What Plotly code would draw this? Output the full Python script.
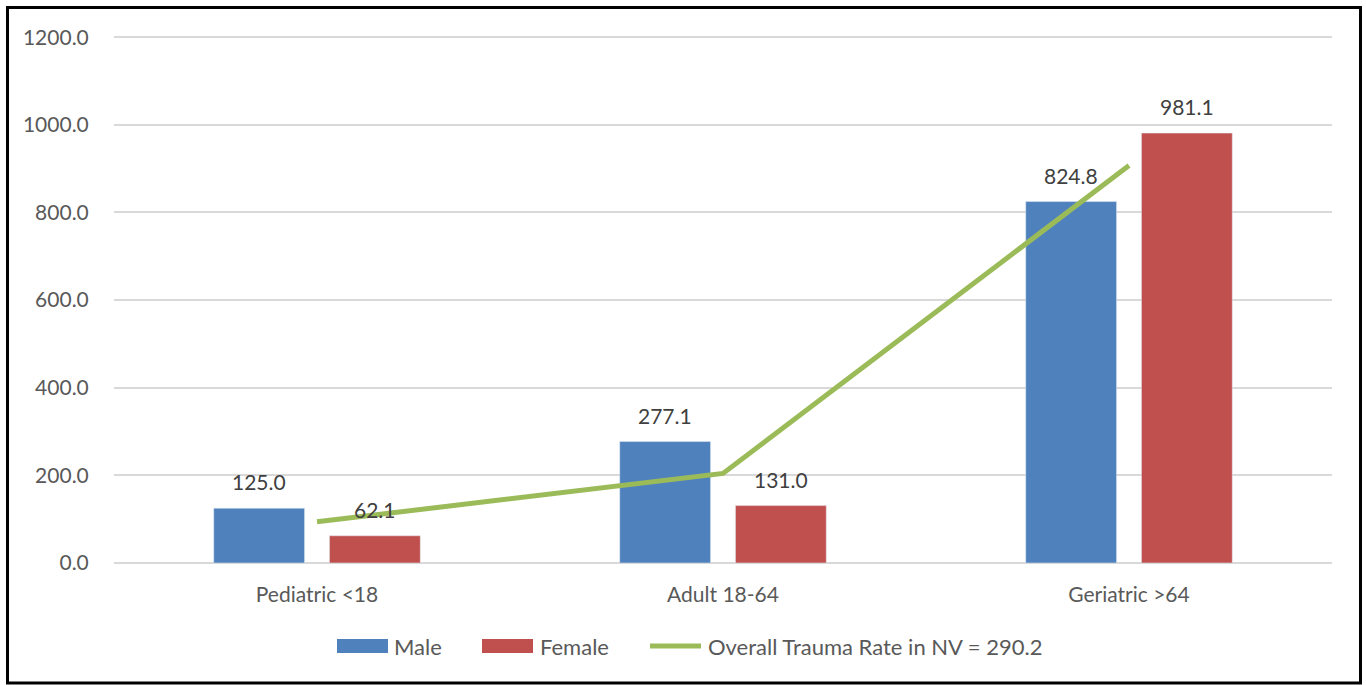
import plotly.graph_objects as go

# Trauma rates per 100,000 by age group and sex
age_groups = ["Pediatric <18", "Adult 18-64", "Geriatric >64"]
male_rates = [125.0, 277.1, 824.8]
female_rates = [62.1, 131.0, 981.1]
overall_rates = [94.0, 204.5, 907.0]
overall_label = "Overall Trauma Rate in NV = 290.2"
y_ticks = [0, 200, 400, 600, 800, 1000, 1200]

BLUE = "#4F81BD"
RED = "#C0504D"
GREEN = "#9BBB59"
FONT = "Lato"

W, H = 1366, 685
L, R, T, B = 114, 34, 35, 122
PW, PH = W - L - R, H - T - B
BAR_OFFSET = 58  # px from category centre to each bar centre


def px_x(x):
    return (x - L) / PW


def px_y(y):
    return (H - B - y) / PH


fig = go.Figure()
fig.add_trace(go.Bar(x=age_groups, y=male_rates, name="Male", marker_color=BLUE))
fig.add_trace(go.Bar(x=age_groups, y=female_rates, name="Female", marker_color=RED))
fig.add_trace(go.Scatter(
    x=age_groups, y=overall_rates, name=overall_label, mode="lines",
    line=dict(color=GREEN, width=5), cliponaxis=False,
))

# value labels above each bar
label_font = dict(size=21, color="#404040", family=FONT)
annotations = []
for series, shift in ((male_rates, -BAR_OFFSET), (female_rates, BAR_OFFSET)):
    for cat, v in zip(age_groups, series):
        annotations.append(dict(
            x=cat, y=v, xref="x", yref="y", text=f"{v:.1f}",
            xshift=shift, yshift=12, yanchor="bottom", showarrow=False,
            font=label_font,
        ))

shapes = [
    # chart frame
    dict(type="rect", xref="paper", yref="paper",
         x0=px_x(7.5), x1=px_x(1360.5), y0=px_y(683), y1=px_y(7.5),
         line=dict(color="black", width=3), layer="above"),
    # legend swatches
    dict(type="rect", xref="paper", yref="paper",
         x0=px_x(337), x1=px_x(388), y0=px_y(653), y1=px_y(639),
         fillcolor=BLUE, line=dict(width=0)),
    dict(type="rect", xref="paper", yref="paper",
         x0=px_x(482), x1=px_x(533), y0=px_y(653), y1=px_y(639),
         fillcolor=RED, line=dict(width=0)),
    dict(type="line", xref="paper", yref="paper",
         x0=px_x(650), x1=px_x(701), y0=px_y(646), y1=px_y(646),
         line=dict(color=GREEN, width=5)),
]

legend_font = dict(size=22, color="#595959", family=FONT)
for text, x in (("Male", 392), ("Female", 538), (overall_label, 706)):
    annotations.append(dict(
        text=text, x=px_x(x), y=px_y(646), xref="paper", yref="paper",
        xanchor="left", yanchor="middle", showarrow=False, font=legend_font,
    ))

fig.update_layout(
    width=W, height=H,
    margin=dict(l=L, r=R, t=T, b=B),
    paper_bgcolor="white", plot_bgcolor="white",
    barmode="group", bargap=0.43, bargroupgap=0.215,
    showlegend=False,
    shapes=shapes, annotations=annotations,
    font=dict(family=FONT, color="#595959"),
)
fig.update_xaxes(
    showgrid=False, showline=False,
    ticks="outside", ticklen=13, tickcolor="rgba(0,0,0,0)",
    tickfont=dict(size=21, color="#595959", family=FONT),
)
fig.update_yaxes(
    range=[0, 1205], tickvals=y_ticks,
    ticktext=[f"{v:.1f}" for v in y_ticks],
    showgrid=True, gridcolor="#D9D9D9", gridwidth=1.5,
    zeroline=True, zerolinecolor="#D9D9D9", zerolinewidth=1.5,
    ticks="outside", ticklen=20, tickcolor="rgba(0,0,0,0)",
    tickfont=dict(size=21, color="#595959", family=FONT),
)

fig.write_html("out.html")
